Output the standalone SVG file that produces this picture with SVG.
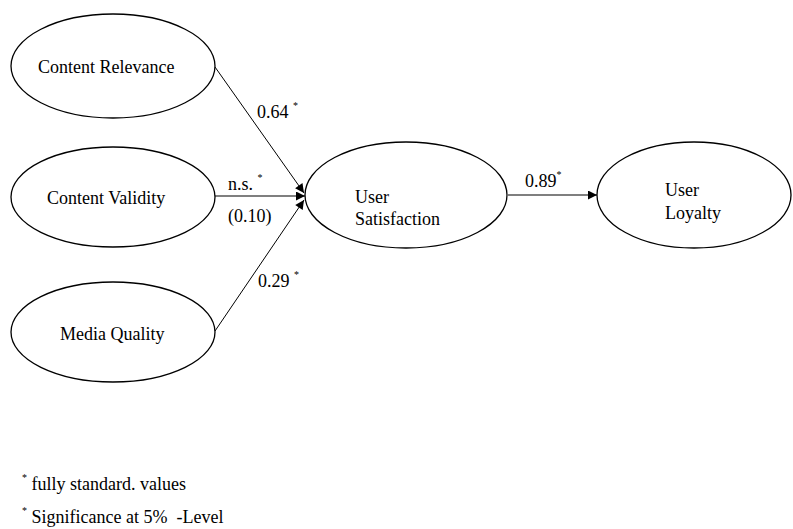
<svg xmlns="http://www.w3.org/2000/svg" width="793" height="529" viewBox="0 0 793 529">
<style>
text{font-family:"Liberation Serif","Times New Roman",serif;font-size:18px;fill:#000}
.sup{font-size:10px}
.node ellipse{fill:#fff;stroke:#000;stroke-width:1.3}
.edge{stroke:#000;stroke-width:1;fill:none}
.hedge{stroke:#555;stroke-width:1.6;fill:none}
</style>
<defs>
<marker id="arr" viewBox="0 0 10 10" refX="10" refY="5" markerWidth="11" markerHeight="9" markerUnits="userSpaceOnUse" orient="auto">
<path d="M0,0 L10,5 L0,10 Z" fill="#000"/>
</marker>
</defs>
<rect width="793" height="529" fill="#fff"/>
<g id="connectors">
<line class="edge" x1="215" y1="67" x2="304" y2="193" marker-end="url(#arr)"/>
<line class="hedge" x1="215" y1="196" x2="305" y2="196" marker-end="url(#arr)"/>
<line class="edge" x1="215" y1="331" x2="304" y2="200" marker-end="url(#arr)"/>
<line class="hedge" x1="508" y1="195" x2="597" y2="195" marker-end="url(#arr)"/>
</g>
<g id="content-relevance" class="node">
<ellipse cx="113" cy="66" rx="102" ry="52"/>
<text x="38" y="73">Content Relevance</text>
</g>
<g id="content-validity" class="node">
<ellipse cx="113" cy="197" rx="102" ry="50"/>
<text x="47" y="204">Content Validity</text>
</g>
<g id="media-quality" class="node">
<ellipse cx="113" cy="332" rx="102" ry="50"/>
<text x="60" y="340">Media Quality</text>
</g>
<g id="user-satisfaction" class="node">
<ellipse cx="406" cy="195" rx="101" ry="53"/>
<text x="355" y="203">User</text>
<text x="355" y="225">Satisfaction</text>
</g>
<g id="user-loyalty" class="node">
<ellipse cx="694" cy="195" rx="97" ry="53"/>
<text x="665" y="196">User</text>
<text x="665" y="219">Loyalty</text>
</g>
<g id="labels">
<text x="257" y="118">0.64 <tspan class="sup" dy="-9">*</tspan></text>
<text x="228" y="190">n.s. <tspan class="sup" dy="-9">*</tspan></text>
<text x="228" y="222">(0.10)</text>
<text x="258" y="287">0.29 <tspan class="sup" dy="-9">*</tspan></text>
<text x="525" y="187">0.89<tspan class="sup" dy="-9">*</tspan></text>
</g>
<g id="notes">
<text x="22" y="490"><tspan class="sup" dy="-9">*</tspan><tspan dy="9"> fully standard. values</tspan></text>
<text x="22" y="523"><tspan class="sup" dy="-9">*</tspan><tspan dy="9"> Significance at 5%&#160; -Level</tspan></text>
</g>
</svg>
